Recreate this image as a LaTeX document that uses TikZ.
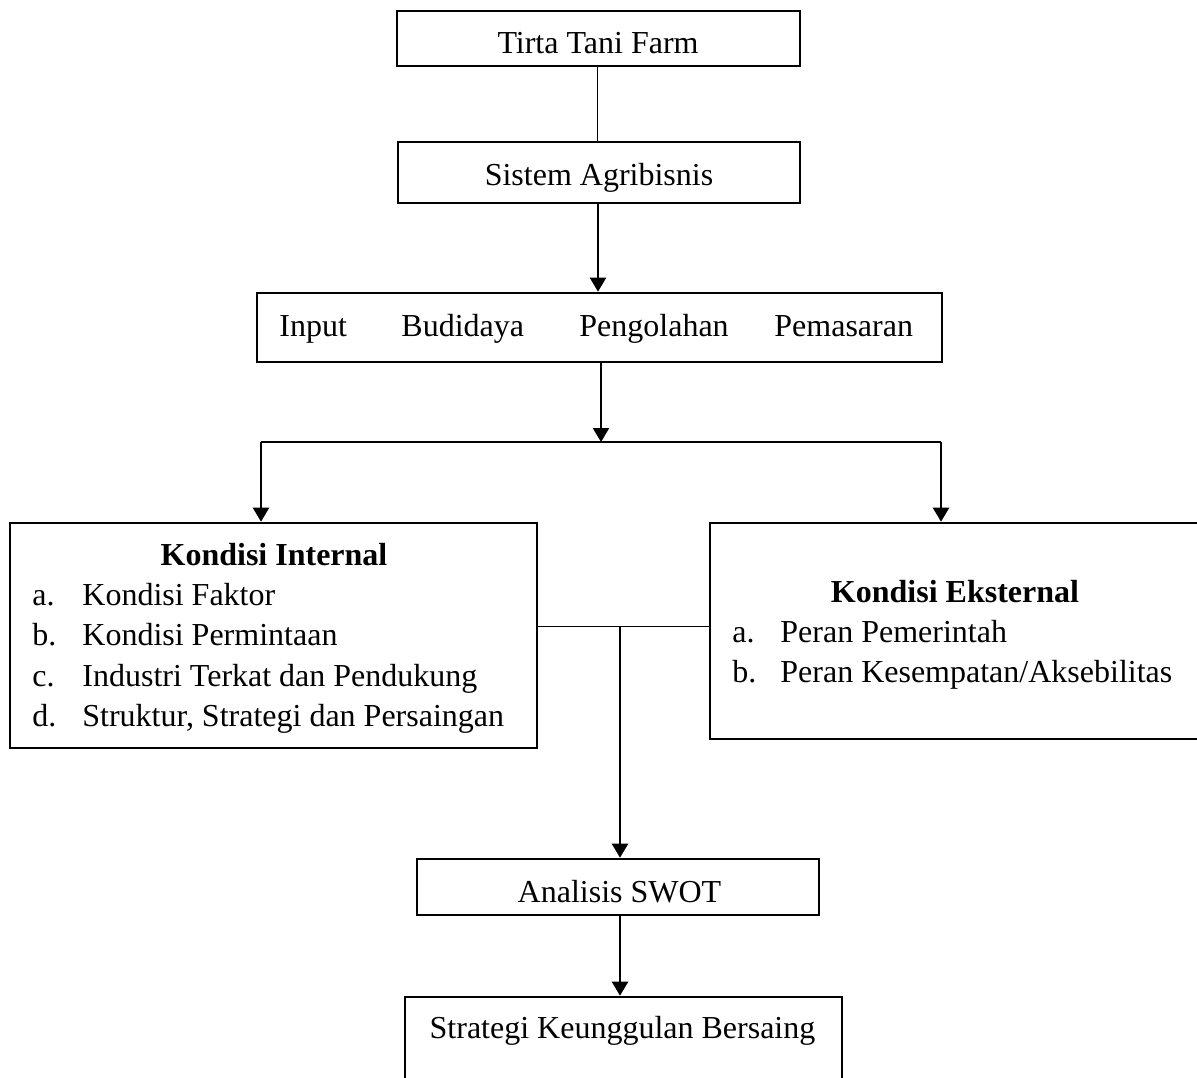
\documentclass[tikz,border=0pt]{standalone}
\usepackage{fontspec}
\setmainfont{Liberation Serif}
\usetikzlibrary{arrows.meta}
\begin{document}
\begin{tikzpicture}[x=0.5pt,y=-0.5pt,
  boxnode/.style={draw,line width=1.3pt,inner sep=0pt,fill=none},
  txt/.style={inner sep=0pt,font=\fontsize{16}{19}\selectfont},
  btxt/.style={inner sep=0pt,font=\fontsize{16}{19}\selectfont\bfseries},
  arr/.style={line width=1.1pt,-{Triangle[width=8pt,length=7pt]}},
  conn/.style={line width=0.7pt},
  thinline/.style={line width=0.5pt}]
\useasboundingbox (0,0) rectangle (1197,1077);
\clip (0,0) rectangle (1197,1077);
% boxes
\node[boxnode,minimum width=201.5pt,minimum height=27.5pt] (tirta) at (598.5,38.5) {};
\node[boxnode,minimum width=201pt,minimum height=30.5pt] (sistem) at (599,172.5) {};
\node[boxnode,minimum width=342.5pt,minimum height=34.5pt] (input) at (599.5,327.5) {};
\node[boxnode,minimum width=263.5pt,minimum height=112.5pt] (internal) at (273.5,635.5) {};
\node[boxnode,minimum width=245pt,minimum height=108pt] (eksternal) at (955,631) {};
\node[boxnode,minimum width=201pt,minimum height=28pt] (swot) at (618,887) {};
\node[boxnode,minimum width=218.5pt,minimum height=56.5pt] (strategi) at (623.5,1053.5) {};
% texts
\node[txt,anchor=base] (t1) at (598,53) {Tirta Tani Farm};
\node[txt,anchor=base] (t2) at (599,185) {Sistem Agribisnis};
\node[txt,anchor=base west] (t3a) at (279,336) {Input};
\node[txt,anchor=base west] (t3b) at (401,336) {Budidaya};
\node[txt,anchor=base west] (t3c) at (579,336) {Pengolahan};
\node[txt,anchor=base west] (t3d) at (774,336) {Pemasaran};
\node[btxt,anchor=base] (t4) at (274,565) {Kondisi Internal};
\node[txt,anchor=base west] (t4a) at (32,605) {a.};
\node[txt,anchor=base west] (t4ax) at (82,605) {Kondisi Faktor};
\node[txt,anchor=base west] (t4b) at (32,645) {b.};
\node[txt,anchor=base west] (t4bx) at (82,645) {Kondisi Permintaan};
\node[txt,anchor=base west] (t4c) at (32,686) {c.};
\node[txt,anchor=base west] (t4cx) at (82,686) {Industri Terkat dan Pendukung};
\node[txt,anchor=base west] (t4d) at (32,726) {d.};
\node[txt,anchor=base west] (t4dx) at (82,726) {Struktur, Strategi dan Persaingan};
\node[btxt,anchor=base] (t5) at (955,602) {Kondisi Eksternal};
\node[txt,anchor=base west] (t5a) at (732,642) {a.};
\node[txt,anchor=base west] (t5ax) at (780,642) {Peran Pemerintah};
\node[txt,anchor=base west] (t5b) at (732,682) {b.};
\node[txt,anchor=base west] (t5bx) at (780,682) {Peran Kesempatan/Aksebilitas};
\node[txt,anchor=base] (t6) at (619.5,902) {Analisis SWOT};
\node[txt,anchor=base] (t7) at (622.5,1038) {Strategi Keunggulan Bersaing};
% connectors
\coordinate (bl) at (261,442);
\coordinate (br) at (941,442);
\coordinate (bm) at (601,442);
\coordinate (jn) at (620,626);
\draw[thinline] (tirta.south -| 597,0) -- (sistem.north -| 597,0);
\draw[arr] (sistem.south -| 598,0) -- (input.north -| 598,0);
\draw[arr] (input.south -| bm) -- (bm);
\draw[conn] (bl) -- (br);
\draw[arr] (bl) -- (bl |- internal.north);
\draw[arr] (br) -- (br |- eksternal.north);
\draw[thinline] (internal.east |- jn) -- (eksternal.west |- jn);
\draw[arr] (jn) -- (jn |- swot.north);
\draw[arr] (swot.south -| jn) -- (strategi.north -| jn);
\end{tikzpicture}
\end{document}
